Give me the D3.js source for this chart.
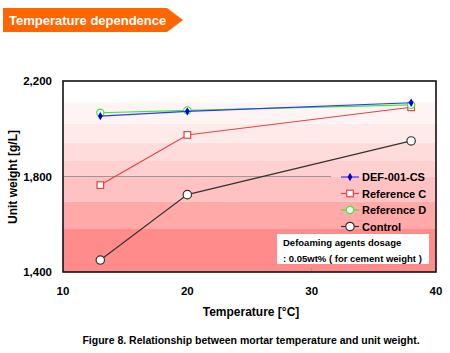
<!DOCTYPE html>
<html>
<head>
<meta charset="utf-8">
<script src="https://cdn.jsdelivr.net/npm/d3@7"></script>
<style>
body { margin: 0; background: white; }
text { font-family: Arial, "Liberation Sans", sans-serif; font-weight: bold; }
</style>
</head>
<body>
<div id="canvas"></div>
<script>
var width = 450;
var height = 353;

// data
const temps = [13, 20, 38];
const defCS = [2053, 2073, 2109];
const refC = [1764, 1974, 2090];
const refD = [2067, 2077, 2100];
const control = [1450, 1724, 1949];
const xTicks = [10, 20, 30, 40];
const yTicks = [1400, 1800, 2200];
// background band edges (unit weight) and their fills
const bandEdges = [2200, 2110, 2020, 1940, 1865, 1800, 1695, 1580, 1400];
const bandFills = ["#ffffff", "#fff4f4", "#ffeaea", "#ffdcdc", "#ffd0d0", "#ffc2c2", "#ffa9a9", "#ff8b8b"];

var svg = d3.select("#canvas").append("svg")
    .attr("width", width)
    .attr("height", height)
    .style("background-color", "white");

var plotL = 63, plotR = 436, plotT = 81, plotB = 272;

const x = d3.scaleLinear().domain([10, 40]).range([plotL, plotR]);
const y = d3.scaleLinear().domain([1400, 2200]).range([plotB, plotT]);

// header tag
svg.append("path")
    .attr("d", "M3,8 L167,8 L183,20 L167,32 L3,32 Z")
    .attr("fill", "#ff6600");
svg.append("text")
    .attr("x", 9).attr("y", 24.5)
    .attr("fill", "white")
    .style("font-size", "13px")
    .text("Temperature dependence");

// bands
svg.selectAll(".band")
    .data(bandFills)
    .enter().append("rect")
    .attr("class", "band")
    .attr("x", plotL)
    .attr("width", plotR - plotL)
    .attr("y", (d, i) => y(bandEdges[i]))
    .attr("height", (d, i) => y(bandEdges[i + 1]) - y(bandEdges[i]))
    .attr("fill", d => d);

// grid line at 1800 and tick at 30
svg.append("line")
    .attr("x1", plotL).attr("x2", 331)
    .attr("y1", y(1800)).attr("y2", y(1800))
    .attr("stroke", "#999").attr("stroke-width", 1);
svg.append("line")
    .attr("x1", x(30)).attr("x2", x(30))
    .attr("y1", plotB).attr("y2", plotB - 4)
    .attr("stroke", "#999");

// frame
svg.append("rect")
    .attr("x", plotL).attr("y", plotT)
    .attr("width", plotR - plotL).attr("height", plotB - plotT)
    .attr("fill", "none").attr("stroke", "#111").attr("stroke-width", 1.6);

// tick labels
svg.selectAll(".ytick")
    .data(yTicks)
    .enter().append("text")
    .attr("class", "ytick")
    .attr("x", 52).attr("y", d => y(d) + 4)
    .attr("text-anchor", "end")
    .style("font-size", "11.5px")
    .text(d => d3.format(",")(d));

svg.selectAll(".xtick")
    .data(xTicks)
    .enter().append("text")
    .attr("class", "xtick")
    .attr("x", d => x(d)).attr("y", 295)
    .attr("text-anchor", "middle")
    .style("font-size", "11.5px")
    .text(d => d);

svg.append("text")
    .attr("x", 251).attr("y", 316)
    .attr("text-anchor", "middle")
    .style("font-size", "12px")
    .text("Temperature [\u00B0C]");

svg.append("text")
    .attr("transform", "translate(17,177) rotate(-90)")
    .attr("text-anchor", "middle")
    .style("font-size", "12px")
    .text("Unit weight [g/L]");

svg.append("text")
    .attr("x", 251).attr("y", 344)
    .attr("text-anchor", "middle")
    .style("font-size", "10.5px")
    .text("Figure 8. Relationship between mortar temperature and unit weight.");

// series
const series = [
    { name: "DEF-001-CS", values: defCS, color: "#3333ff", marker: "diamond", fill: "#0000dd" },
    { name: "Reference C", values: refC, color: "#e04444", marker: "square", fill: "white" },
    { name: "Reference D", values: refD, color: "#33ee33", marker: "circle", fill: "white" },
    { name: "Control", values: control, color: "#333333", marker: "bigcircle", fill: "white" }
];

const line = d3.line()
    .x((d, i) => x(temps[i]))
    .y(d => y(d));

function marker(g, s, cx, cy) {
    if (s.marker === "diamond") {
        g.append("path")
            .attr("d", d3.symbol(d3.symbolDiamond, 20)())
            .attr("transform", "translate(" + cx + "," + cy + ")")
            .attr("fill", s.fill);
    } else if (s.marker === "square") {
        g.append("rect")
            .attr("x", cx - 3.3).attr("y", cy - 3.3)
            .attr("width", 6.6).attr("height", 6.6)
            .attr("fill", s.fill).attr("stroke", s.color).attr("stroke-width", 1.2);
    } else {
        g.append("circle")
            .attr("cx", cx).attr("cy", cy)
            .attr("r", s.marker === "bigcircle" ? 4.2 : 3.6)
            .attr("fill", s.fill).attr("stroke", s.color).attr("stroke-width", 1.2);
    }
}

// draw in back-to-front order (green under blue at 38)
[3, 1, 2, 0].forEach(function (k) {
    var s = series[k];
    var g = svg.append("g");
    g.append("path")
        .datum(s.values)
        .attr("d", line)
        .attr("fill", "none")
        .attr("stroke", s.color)
        .attr("stroke-width", 1.2);
    s.values.forEach((v, i) => marker(g, s, x(temps[i]), y(v)));
});

// legend
series.forEach(function (s, i) {
    var ly = 177 + i * 16.5;
    var g = svg.append("g");
    g.append("line")
        .attr("x1", 341).attr("x2", 359)
        .attr("y1", ly).attr("y2", ly)
        .attr("stroke", s.color).attr("stroke-width", 1.2);
    marker(g, s, 350, ly);
    g.append("text")
        .attr("x", 362).attr("y", ly + 4)
        .style("font-size", "11px")
        .text(s.name);
});

// dosage note
svg.append("rect")
    .attr("x", 277).attr("y", 234)
    .attr("width", 152).attr("height", 30)
    .attr("fill", "white");
svg.append("text")
    .attr("x", 283).attr("y", 245.5)
    .style("font-size", "9.5px")
    .text("Defoaming agents dosage");
svg.append("text")
    .attr("x", 283).attr("y", 262)
    .style("font-size", "9.5px")
    .text(": 0.05wt% ( for cement weight )");
</script>
</body>
</html>
